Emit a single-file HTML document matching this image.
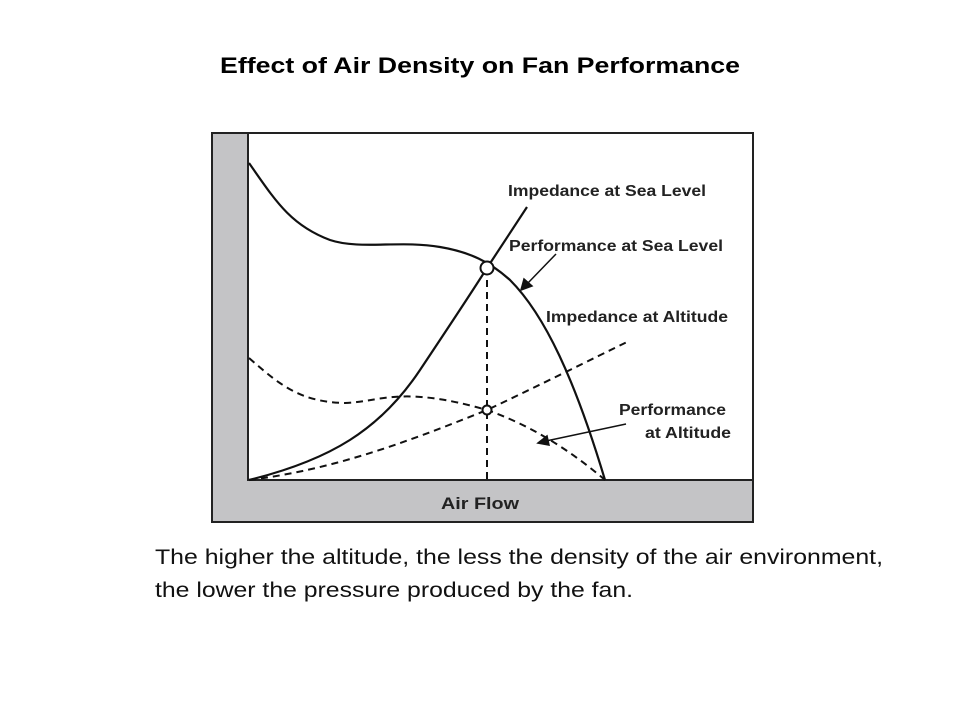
<!DOCTYPE html>
<html><head><meta charset="utf-8"><style>html,body{margin:0;padding:0;background:#fff}svg{display:block}</style></head>
<body>
<svg width="960" height="720" viewBox="0 0 960 720" xmlns="http://www.w3.org/2000/svg">
<text x="480" y="73" text-anchor="middle" font-family="Liberation Sans, sans-serif" font-weight="bold" font-size="22" textLength="520" lengthAdjust="spacingAndGlyphs">Effect of Air Density on Fan Performance</text>
<rect x="212" y="133" width="541" height="389" fill="#c4c4c6" stroke="#222" stroke-width="2"/>
<rect x="248" y="133" width="505" height="347" fill="#fff" stroke="#222" stroke-width="2"/>
<text x="480" y="509" text-anchor="middle" font-family="Liberation Sans, sans-serif" font-weight="bold" font-size="17" fill="#222" textLength="78" lengthAdjust="spacingAndGlyphs">Air Flow</text>
<g fill="none" stroke="#111" stroke-width="2.2">
<path d="M249,163 C275,200 290,225 330,240 C360,250 400,240 440,247 C470,252 490,262 510,280 C545,315 575,380 605,480"/>
<path d="M249,480 C330,460 380,430 420,370 C450,325 470,295 487,268 L527,207"/>
</g>
<g fill="none" stroke="#111" stroke-width="2" stroke-dasharray="7,5">
<path d="M249,358 C280,385 300,402 345,403 C380,402 400,385 487,410 C530,425 570,450 605,480"/>
<path d="M249,480 C330,470 400,445 487,410 C540,385 590,360 627,342"/>
<path d="M487,268 L487,480"/>
</g>
<circle cx="487" cy="268" r="6.5" fill="#fff" stroke="#111" stroke-width="2"/>
<circle cx="487" cy="410" r="4.5" fill="#fff" stroke="#111" stroke-width="2"/>
<g stroke="#111" stroke-width="1.5" fill="#111">
<line x1="556" y1="254" x2="527" y2="284"/>
<polygon points="521,290 524,279 532,286"/>
<line x1="626" y1="424" x2="546" y2="441"/>
<polygon points="538,443 547,436 549,445"/>
</g>
<g font-family="Liberation Sans, sans-serif" font-weight="bold" font-size="16" fill="#222" lengthAdjust="spacingAndGlyphs">
<text x="508" y="196" textLength="198" lengthAdjust="spacingAndGlyphs">Impedance at Sea Level</text>
<text x="509" y="251" textLength="214" lengthAdjust="spacingAndGlyphs">Performance at Sea Level</text>
<text x="546" y="322" textLength="182" lengthAdjust="spacingAndGlyphs">Impedance at Altitude</text>
<text x="619" y="415" textLength="107" lengthAdjust="spacingAndGlyphs">Performance</text>
<text x="645" y="438" textLength="86" lengthAdjust="spacingAndGlyphs">at Altitude</text>
</g>
<g font-family="Liberation Sans, sans-serif" font-size="21" fill="#111">
<text x="155" y="564" textLength="728" lengthAdjust="spacingAndGlyphs">The higher the altitude, the less the density of the air environment,</text>
<text x="155" y="597" textLength="478" lengthAdjust="spacingAndGlyphs">the lower the pressure produced by the fan.</text>
</g>
</svg>
</body></html>
